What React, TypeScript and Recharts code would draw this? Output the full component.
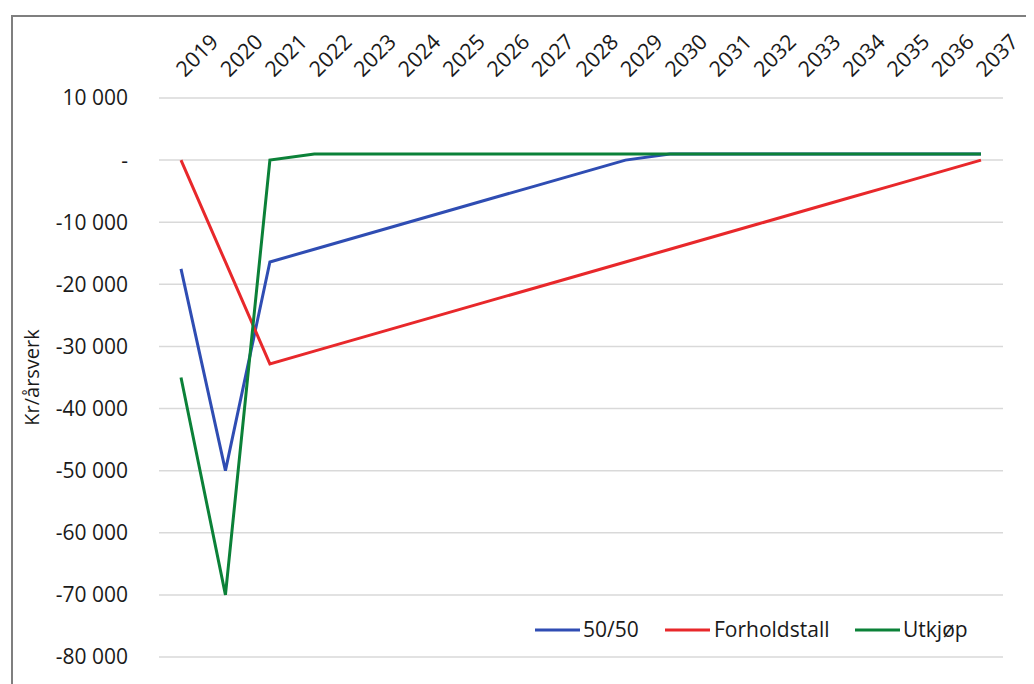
import { LineChart, Line, XAxis, YAxis, CartesianGrid, Legend } from 'recharts';

const years = ['2019', '2020', '2021', '2022', '2023', '2024', '2025', '2026', '2027', '2028', '2029', '2030', '2031', '2032', '2033', '2034', '2035', '2036', '2037'];

const fiftyFifty = [-17500, -50000, -16400, -14350, -12300, -10250, -8200, -6150, -4100, -2050, 0, 1000, 1000, 1000, 1000, 1000, 1000, 1000, 1000];
const forholdstall = [0, -16400, -32800, -30750, -28700, -26650, -24600, -22550, -20500, -18450, -16400, -14350, -12300, -10250, -8200, -6150, -4100, -2050, 0];
const utkjop = [-35000, -70000, 0, 1000, 1000, 1000, 1000, 1000, 1000, 1000, 1000, 1000, 1000, 1000, 1000, 1000, 1000, 1000, 1000];

const yTicks = [-80000, -70000, -60000, -50000, -40000, -30000, -20000, -10000, 0, 10000];

const series = [
  { key: 'fifty', name: '50/50', color: '#2f4db3' },
  { key: 'forhold', name: 'Forholdstall', color: '#e8282b' },
  { key: 'utkjop', name: 'Utkjøp', color: '#0b8138' },
];

const chartData = years.map((year, i) => ({
  year,
  fifty: fiftyFifty[i],
  forhold: forholdstall[i],
  utkjop: utkjop[i],
}));

const FONT = '"Open Sans", sans-serif';

const formatY = (v: number) => {
  if (v === 0) return '-';
  const s = Math.abs(v).toString().replace(/\B(?=(\d{3})+(?!\d))/g, ' ');
  return (v < 0 ? '-' : '') + s;
};

const YearTick = ({ x, y, payload }: any) => (
  <text
    x={x + 4}
    y={y - 20}
    transform={`rotate(-45, ${x + 4}, ${y - 20})`}
    textAnchor="start"
    fontFamily={FONT}
    fontSize={21.5}
    fill="#1a1a1a"
  >
    {payload.value}
  </text>
);

const renderLegend = () => (
  <svg width={460} height={30} style={{ display: 'block' }}>
    {[
      { x: 15, tx: 63 },
      { x: 145, tx: 194 },
      { x: 335, tx: 383 },
    ].map((p, i) => (
      <g key={series[i].key}>
        <line x1={p.x} x2={p.x + 45} y1={16} y2={16} stroke={series[i].color} strokeWidth={3} />
        <text x={p.tx} y={23} fontFamily={FONT} fontSize={21} fill="#1a1a1a">
          {series[i].name}
        </text>
      </g>
    ))}
  </svg>
);

export default function App() {
  return (
    <div style={{ position: 'relative', width: 1026, height: 676, overflow: 'hidden' }}>
      <div
        style={{
          position: 'absolute',
          left: 3,
          top: 7,
          width: 1100,
          height: 800,
          border: '2px solid #7f7f7f',
          boxSizing: 'border-box',
        }}
      />
      <div style={{ position: 'absolute', left: 0, top: 0 }}>
        <LineChart width={1026} height={676} data={chartData} margin={{ top: 0, right: 31, bottom: 27, left: 0 }}>
          <CartesianGrid horizontal vertical={false} stroke="#d9d9d9" strokeWidth={1.5} />
          <XAxis
            dataKey="year"
            orientation="top"
            height={90}
            axisLine={false}
            tickLine={false}
            tickSize={0}
            tickMargin={0}
            interval={0}
            padding={{ left: 22, right: 22 }}
            tick={<YearTick />}
          />
          <YAxis
            width={151}
            domain={[-80000, 10000]}
            ticks={yTicks}
            interval={0}
            axisLine={false}
            tickLine={false}
            tickSize={0}
            tickMargin={31}
            tickFormatter={formatY}
            tick={{ fontFamily: FONT, fontSize: 21, fill: '#1a1a1a' }}
            label={{
              content: ({ viewBox }: any) => (
                <text
                  x={viewBox.x + 31}
                  y={viewBox.y + viewBox.height / 2}
                  transform={`rotate(-90, ${viewBox.x + 31}, ${viewBox.y + viewBox.height / 2})`}
                  textAnchor="middle"
                  fontFamily={FONT}
                  fontSize={20}
                  fill="#1a1a1a"
                >
                  Kr/årsverk
                </text>
              ),
            }}
          />
          <Legend
            layout="horizontal"
            verticalAlign="middle"
            align="center"
            content={renderLegend}
            wrapperStyle={{ top: 606, left: 512, width: 460 }}
          />
          {series.map((s) => (
            <Line
              key={s.key}
              type="linear"
              dataKey={s.key}
              name={s.name}
              stroke={s.color}
              strokeWidth={3}
              dot={false}
              activeDot={false}
              isAnimationActive={false}
            />
          ))}
        </LineChart>
      </div>
    </div>
  );
}
